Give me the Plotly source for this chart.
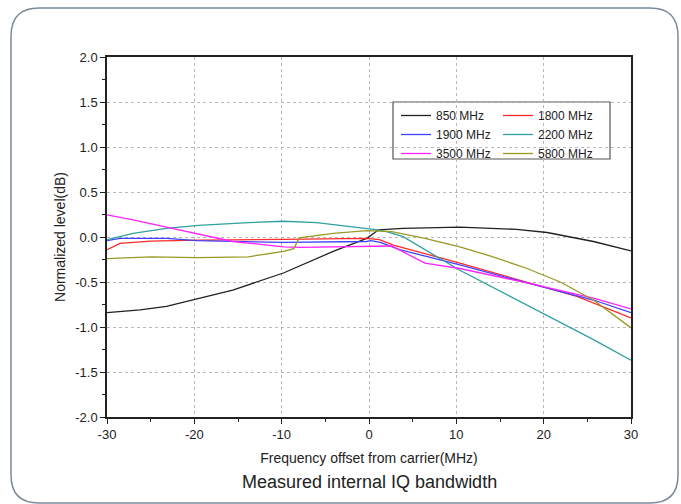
import plotly.graph_objects as go

# ---- data ----
x_850 = [-30, -26.2, -23.2, -19.7, -15.6, -9.8, -4.1, -0.25, 1.1, 3.9, 10.4, 16.9, 20.4, 25.7, 30]
y_850 = [-0.84, -0.81, -0.77, -0.69, -0.59, -0.40, -0.16, -0.015, 0.08, 0.096, 0.11, 0.085, 0.05, -0.05, -0.155]

x_1800 = [-30, -28.5, -25, -19.5, -9.8, -2.2, -0.25, 1.2, 2.8, 10.4, 18.1, 23.8, 30]
y_1800 = [-0.14, -0.07, -0.045, -0.035, -0.027, -0.02, -0.015, -0.03, -0.09, -0.29, -0.50, -0.66, -0.90]

x_1900 = [-30, -28.5, -23.2, -19.7, -9.8, -0.25, 0.2, 1.3, 3.5, 10.4, 18.1, 25.7, 30]
y_1900 = [-0.04, -0.015, -0.015, -0.04, -0.06, -0.05, -0.04, -0.06, -0.14, -0.31, -0.51, -0.70, -0.84]

x_2200 = [-30, -27, -23.2, -19.5, -13.8, -9.8, -6, -2.2, 1, 2, 3.9, 10.4, 18.1, 25.7, 30]
y_2200 = [-0.03, 0.04, 0.096, 0.13, 0.16, 0.175, 0.16, 0.12, 0.08, 0.06, 0.004, -0.37, -0.76, -1.14, -1.37]

x_3500 = [-30, -27, -23.2, -19.7, -15.6, -11.6, -9.8, -7.9, -4.1, -0.25, 2.6, 6.4, 10.4, 18.1, 25.7, 30]
y_3500 = [0.245, 0.19, 0.11, 0.04, -0.05, -0.09, -0.11, -0.115, -0.11, -0.10, -0.10, -0.29, -0.35, -0.51, -0.68, -0.80]

x_5800 = [-30, -25, -19.7, -13.8, -9.8, -8.6, -8.0, -4.1, -0.25, 2.6, 6.4, 10.4, 14.2, 18.1, 21.9, 25.7, 30]
y_5800 = [-0.24, -0.22, -0.23, -0.22, -0.16, -0.13, -0.01, 0.04, 0.07, 0.06, -0.015, -0.11, -0.22, -0.35, -0.50, -0.70, -1.01]

series_names = ["850 MHz", "1800 MHz", "1900 MHz", "2200 MHz", "3500 MHz", "5800 MHz"]
series_x = [x_850, x_1800, x_1900, x_2200, x_3500, x_5800]
series_y = [y_850, y_1800, y_1900, y_2200, y_3500, y_5800]
series_colors = ["#222222", "#ff2a2a", "#4040ff", "#30a0a0", "#ff22ff", "#999922"]
legend_ids = ["legend", "legend2", "legend", "legend2", "legend", "legend2"]

x_ticks = [-30, -20, -10, 0, 10, 20, 30]
x_tick_labels = ["-30", "-20", "-10", "0", "10", "20", "30"]
y_ticks = [-2.0, -1.5, -1.0, -0.5, 0.0, 0.5, 1.0, 1.5, 2.0]
y_tick_labels = ["-2.0", "-1.5", "-1.0", "-0.5", "0.0", "0.5", "1.0", "1.5", "2.0"]

fig = go.Figure()
for name, xs, ys, col, lg in zip(series_names, series_x, series_y, series_colors, legend_ids):
    fig.add_trace(go.Scatter(x=xs, y=ys, mode="lines", name=name,
                             line=dict(color=col, width=1.3), legend=lg))

W, H = 681, 504
L, R, T, B = 107, 50, 57, 87
pw, ph = W - L - R, H - T - B

def px(xp):
    return (xp - L) / pw

def py(yp):
    return (H - B - yp) / ph

font = "Liberation Sans, Arial, sans-serif"

axis_common = dict(showline=True, linecolor="#222222", linewidth=1.5, mirror=True,
                   ticks="outside", tickcolor="#222222", ticklen=5,
                   showgrid=True, gridcolor="#b8b8b8", griddash="dot", gridwidth=1,
                   zeroline=False, tickfont=dict(family=font, size=13, color="#222222"))

fig.update_xaxes(range=[-30, 30], tickvals=x_ticks, ticktext=x_tick_labels,
                 minor=dict(dtick=5, ticks="outside", ticklen=3, tickcolor="#222222", showgrid=False),
                 title=dict(text="Frequency offset from carrier(MHz)", standoff=12,
                            font=dict(family=font, size=14, color="#222222")),
                 **axis_common)
fig.update_yaxes(range=[-2, 2], tickvals=y_ticks, ticktext=y_tick_labels,
                 minor=dict(dtick=0.25, ticks="outside", ticklen=3, tickcolor="#222222", showgrid=False),
                 title=dict(text="Normalized level(dB)", standoff=6,
                            font=dict(family=font, size=14, color="#222222")),
                 **axis_common)

leg_font = dict(family=font, size=12, color="#222222")
fig.update_layout(
    width=W, height=H,
    margin=dict(l=L, r=R, t=T, b=B),
    paper_bgcolor="white", plot_bgcolor="white",
    showlegend=True,
    legend=dict(x=px(396), y=py(101), xanchor="left", yanchor="top", bgcolor="rgba(0,0,0,0)",
                font=leg_font, itemwidth=30, tracegroupgap=0),
    legend2=dict(x=px(498), y=py(101), xanchor="left", yanchor="top", bgcolor="rgba(0,0,0,0)",
                 font=leg_font, itemwidth=30, tracegroupgap=0),
    shapes=[
        # legend frame
        dict(type="rect", xref="paper", yref="paper", x0=px(393), x1=px(610), y0=py(102), y1=py(159),
             line=dict(color="#555555", width=1.2), fillcolor="white", layer="below"),
    ],
    annotations=[
        dict(text="Measured internal IQ bandwidth", xref="paper", yref="paper",
             x=0.5, y=py(482), xanchor="center", yanchor="middle", showarrow=False,
             font=dict(family=font, size=18, color="#222222")),
    ],
)

# outer rounded frame
x0, x1, y0, y1, r = 11, 678, 8, 503, 28
def P(a, b):
    return f"{px(a)},{py(b)}"
path = (f"M {P(x0 + r, y0)} L {P(x1 - r, y0)} Q {P(x1, y0)} {P(x1, y0 + r)} "
        f"L {P(x1, y1 - r)} Q {P(x1, y1)} {P(x1 - r, y1)} "
        f"L {P(x0 + r, y1)} Q {P(x0, y1)} {P(x0, y1 - r)} "
        f"L {P(x0, y0 + r)} Q {P(x0, y0)} {P(x0 + r, y0)} Z")
fig.add_shape(type="path", xref="paper", yref="paper", path=path,
              line=dict(color="#7a8a9a", width=1.5), layer="below")

fig.write_html("out.html", config={"displayModeBar": False},
               post_script="document.body.style.margin='0';")
